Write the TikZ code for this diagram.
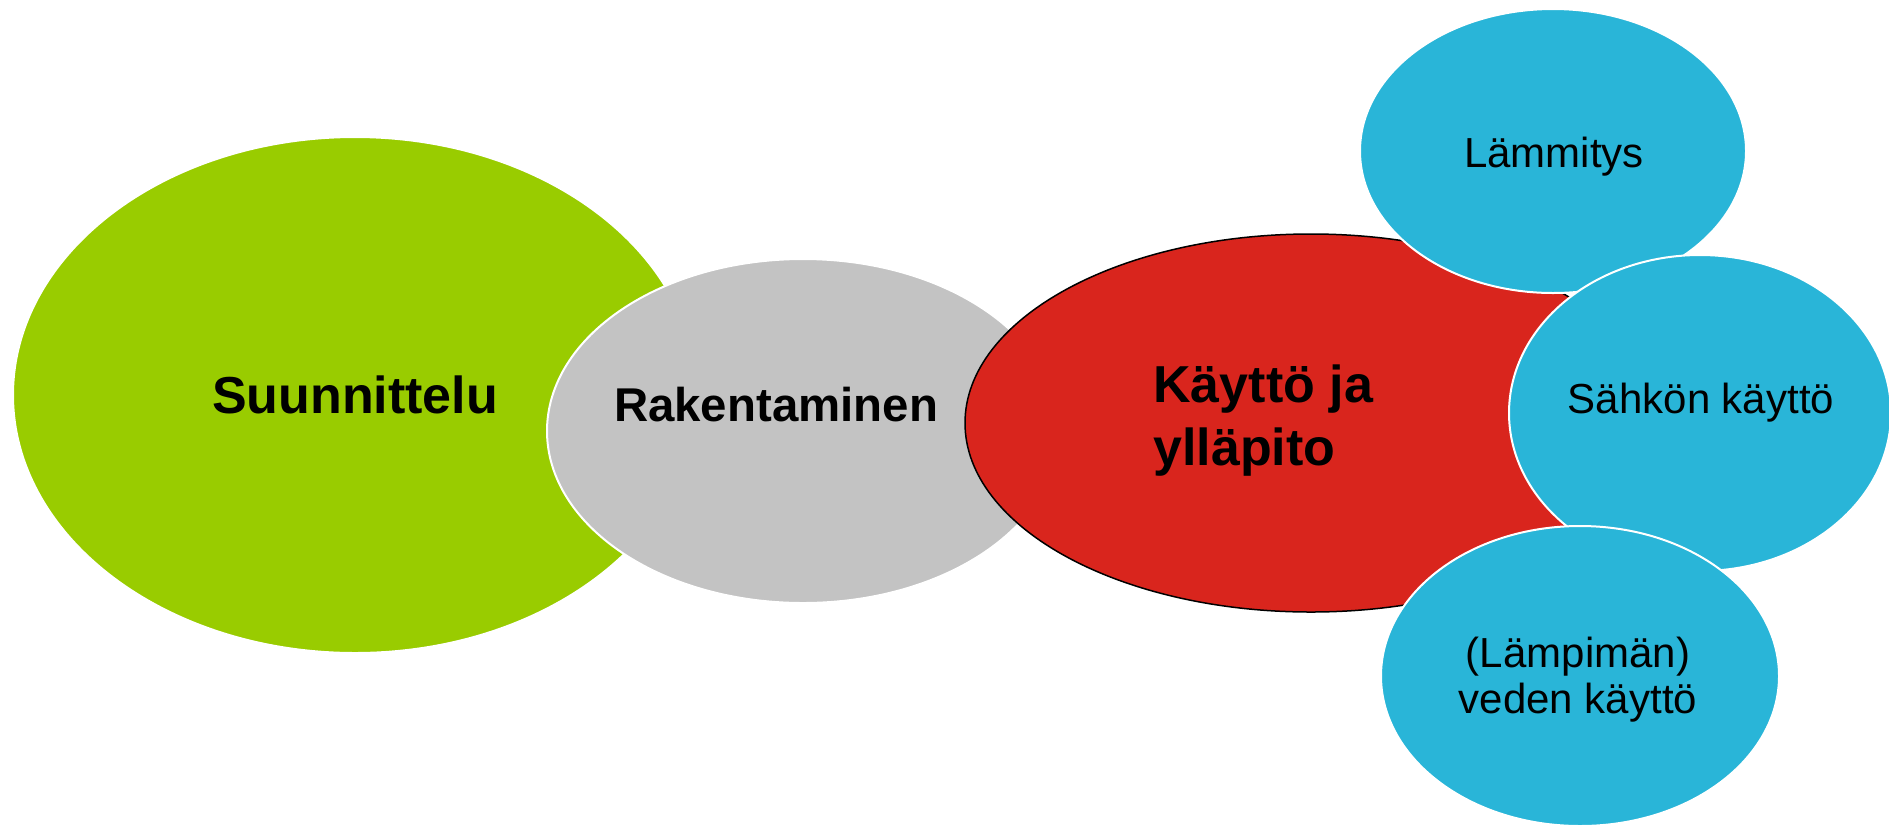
\documentclass[tikz,border=0pt]{standalone}
\usepackage{fontspec}
\setmainfont{Liberation Sans}
\usetikzlibrary{shapes.geometric}
\definecolor{cgreen}{HTML}{99CC00}
\definecolor{cgrey}{HTML}{C3C3C3}
\definecolor{cred}{HTML}{D9251D}
\definecolor{cblue}{HTML}{29B5D8}
\begin{document}
\begin{tikzpicture}[x=0.5pt,y=-0.5pt,
  blob/.style={ellipse, inner sep=0pt, outer sep=0pt, draw=white, line width=1pt},
  lbl/.style={inner sep=0pt, text=black},
  bigbold/.style={font=\bfseries\fontsize{26}{31.5}\selectfont},
  plain/.style={font=\fontsize{21}{23}\selectfont}]
\useasboundingbox (0,0) rectangle (1889,826);
\clip (0,0) rectangle (1889,826);
\node[blob, fill=cgreen, minimum width=684pt*0.5, minimum height=516pt*0.5] (suun) at (355,395) {};
\node[blob, fill=cgrey, minimum width=512pt*0.5, minimum height=344pt*0.5] (rak) at (803,431) {};
\node[blob, fill=cred, draw=black, line width=0.75pt, minimum width=692pt*0.5, minimum height=378pt*0.5] (kay) at (1311,423) {};
\node[blob, fill=cblue, minimum width=386pt*0.5, minimum height=284pt*0.5] (lam) at (1553,151) {};
\node[blob, fill=cblue, minimum width=382pt*0.5, minimum height=316pt*0.5] (sah) at (1700,413) {};
\node[blob, fill=cblue, minimum width=398pt*0.5, minimum height=300pt*0.5] (vesi) at (1580,676) {};
\node[lbl, bigbold, anchor=base] (tsuun) at (355,413) {Suunnittelu};
\node[lbl, font=\bfseries\fontsize{23.7}{28}\selectfont, anchor=base] (trak) at (776,421) {Rakentaminen};
\node[lbl, bigbold, align=left, anchor=base west] (tkay) at (1153,465) {Käyttö ja\\ylläpito};
\node[lbl, plain, anchor=base] (tlam) at (1554,167) {Lämmitys};
\node[lbl, plain, anchor=base] (tsah) at (1701,413) {Sähkön käyttö};
\node[lbl, plain, align=center, anchor=base] (tvesi) at (1578,713) {(Lämpimän)\\veden käyttö};
\end{tikzpicture}
\end{document}
